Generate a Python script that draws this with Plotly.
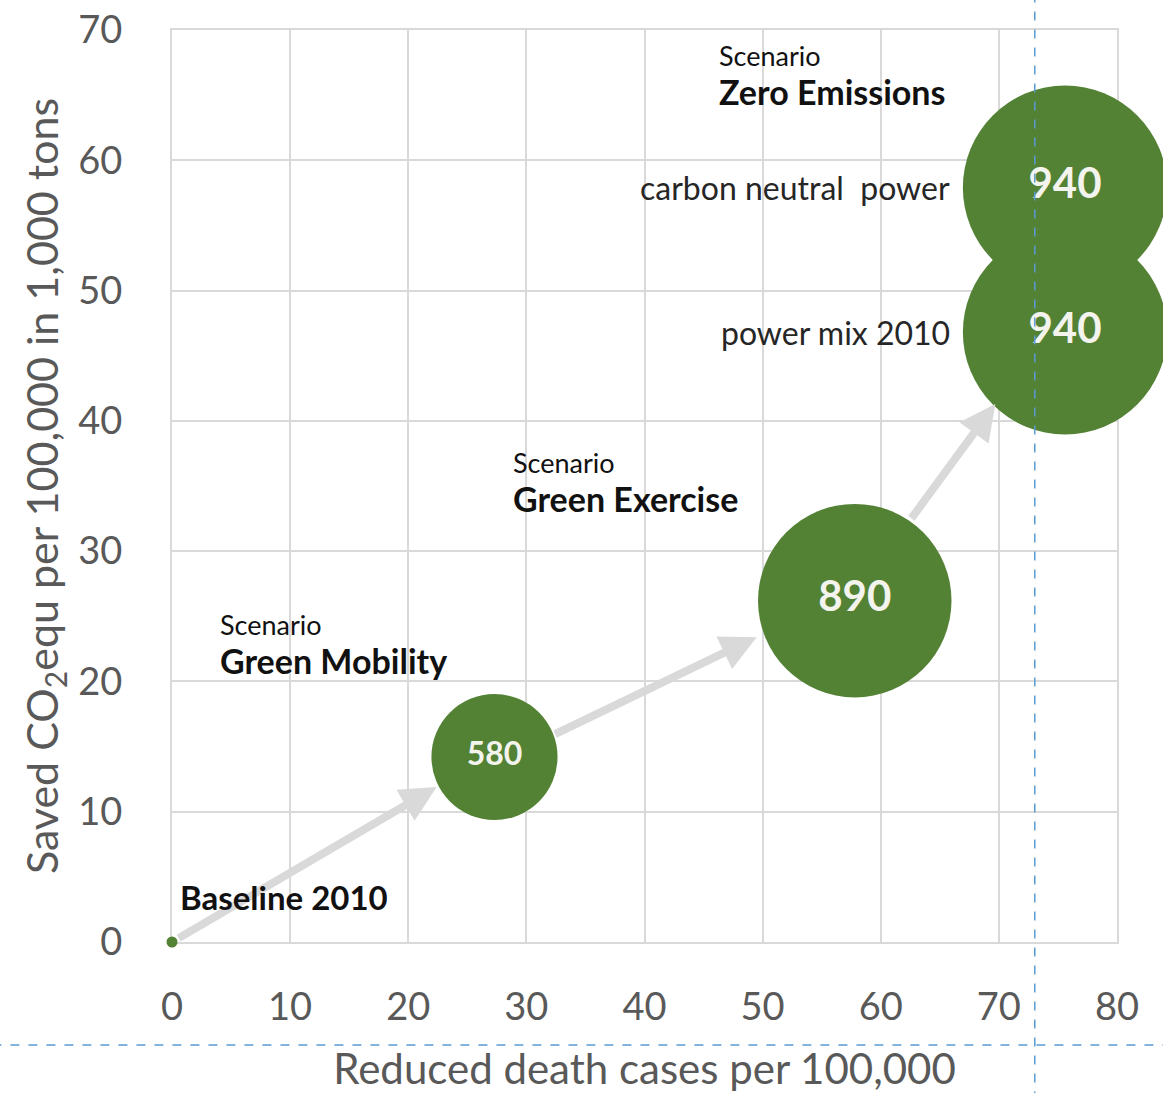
import plotly.graph_objects as go

# Scenario bubbles: reduced deaths (x), saved CO2 (y), bubble value
bubble_x = [27.3, 57.8, 75.6, 75.6]
bubble_y = [14.2, 26.2, 46.8, 57.9]
bubble_value = [580, 890, 940, 940]

# Baseline point
base_x = [0]
base_y = [0]

# Arrows between scenarios: tail (x0, y0) -> head (x1, y1)
arrow_x0 = [0.0, 32.3, 62.5]
arrow_y0 = [0.0, 15.9, 32.4]
arrow_x1 = [22.4, 49.5, 69.7]
arrow_y1 = [11.9, 23.4, 41.3]

# Scenario headings
scen_names = ["Green Mobility", "Green Exercise", "Zero Emissions"]
scen_x = [3.9, 28.7, 46.1]
scen_y = [21.6, 34.05, 65.3]

# Labels to the left of the zero-emission bubbles
side_labels = ["carbon neutral  power", "power mix 2010"]
side_y = [57.9, 46.8]

x_ticks = [0, 10, 20, 30, 40, 50, 60, 70, 80]
y_ticks = [0, 10, 20, 30, 40, 50, 60, 70]

GREEN = "#548235"
GRID = "#d9d9d9"
AXIS_TXT = "#595959"
FONT = "Lato, 'Open Sans', sans-serif"

fig = go.Figure()

fig.add_trace(go.Scatter(
    x=bubble_x, y=bubble_y, mode="markers+text",
    text=["<b>" + str(v) + "</b>" for v in bubble_value],
    textposition="middle center",
    textfont=dict(family=FONT, color="#f4f4ee",
                  size=[32 if v < 700 else 42 for v in bubble_value]),
    marker=dict(color=GREEN, size=bubble_value, sizemode="diameter",
                sizeref=4.6, opacity=1, line=dict(width=0)),
    cliponaxis=False, hoverinfo="skip",
))

annotations = []
for i, (x0, y0, x1, y1) in enumerate(zip(arrow_x0, arrow_y0, arrow_x1, arrow_y1)):
    annotations.append(dict(
        x=x1, y=y1, ax=x0, ay=y0, xref="x", yref="y", axref="x", ayref="y",
        showarrow=True, arrowhead=2, arrowsize=0.9, arrowwidth=8,
        arrowcolor=GRID, text="", startstandoff=6 if i == 0 else 0,
    ))

for name, sx, sy in zip(scen_names, scen_x, scen_y):
    annotations.append(dict(
        x=sx, y=sy, xref="x", yref="y", xanchor="left", yanchor="middle",
        text="<b>" + name + "</b>", showarrow=False,
        font=dict(family=FONT, size=34, color="#111111"),
    ))
    annotations.append(dict(
        x=sx, y=sy + 2.75, xref="x", yref="y", xanchor="left", yanchor="middle",
        text="Scenario", showarrow=False,
        font=dict(family=FONT, size=27, color="#111111"),
    ))

annotations.append(dict(
    x=0.5, y=3.45, xref="x", yref="y", xanchor="left", yanchor="middle",
    text="<b>Baseline 2010</b>", showarrow=False,
    font=dict(family=FONT, size=33, color="#111111"),
))

for lab, ly in zip(side_labels, side_y):
    annotations.append(dict(
        x=66.0, y=ly, xref="x", yref="y", xanchor="right", yanchor="middle",
        text=lab, showarrow=False,
        font=dict(family=FONT, size=32, color="#262626"),
    ))

# Dashed blue guide lines across the page
shapes = [
    dict(type="line", xref="paper", yref="paper", x0=0.913, x1=0.913,
         y0=1.04, y1=-0.17, line=dict(color="#5b9bd5", width=1.5, dash="dash")),
    dict(type="line", xref="paper", yref="paper", x0=-0.19, x1=1.06,
         y0=-0.113, y1=-0.113, line=dict(color="#5b9bd5", width=1.5, dash="dash")),
]

# Baseline marker drawn on top of the first arrow
fig.add_trace(go.Scatter(
    x=base_x, y=base_y, mode="markers",
    marker=dict(color=GREEN, size=11),
    cliponaxis=False, hoverinfo="skip",
))

fig.update_layout(
    width=1163, height=1093,
    margin=dict(l=172, r=46, t=30, b=151),
    paper_bgcolor="white", plot_bgcolor="white",
    showlegend=False,
    annotations=annotations,
    shapes=shapes,
    font=dict(family=FONT, color=AXIS_TXT),
    xaxis=dict(
        range=[0, 80], tickvals=x_ticks, ticktext=[str(t) for t in x_ticks],
        showgrid=True, gridcolor=GRID, gridwidth=2,
        showline=True, linecolor=GRID, linewidth=2, mirror=True,
        layer="below traces", automargin=False,
        zeroline=False, ticks="", ticklabelstandoff=30,
        tickfont=dict(family=FONT, size=38, color=AXIS_TXT),
        title=dict(text="Reduced death cases per 100,000", standoff=28,
                   font=dict(family=FONT, size=42, color=AXIS_TXT)),
    ),
    yaxis=dict(
        range=[0, 70], tickvals=y_ticks, ticktext=[str(t) for t in y_ticks],
        showgrid=True, gridcolor=GRID, gridwidth=2,
        showline=True, linecolor=GRID, linewidth=2, mirror=True,
        layer="below traces", automargin=False,
        zeroline=False, ticks="", ticklabelstandoff=40,
        tickfont=dict(family=FONT, size=38, color=AXIS_TXT),
        title=dict(text="Saved CO<sub>2</sub>equ per 100,000 in 1,000 tons",
                   standoff=6,
                   font=dict(family=FONT, size=43, color=AXIS_TXT)),
    ),
)

fig.write_html("out.html")
